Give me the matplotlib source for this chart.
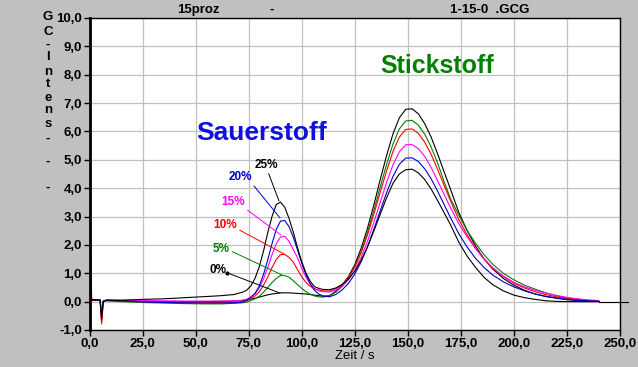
import matplotlib
matplotlib.use('Agg')
import matplotlib.pyplot as plt
from matplotlib.ticker import FuncFormatter, MultipleLocator

plt.rcParams['font.family'] = ['Liberation Sans', 'DejaVu Sans']
plt.rcParams['font.weight'] = 'bold'

zeit = [0, 1, 5, 5.7, 6.5, 8, 15, 25, 35, 45, 55, 62, 68, 72,
        74, 76, 78, 80, 82, 84, 86, 88, 90, 92, 94, 96, 98, 100, 102, 104, 106, 108, 110,
        113, 116, 119, 122, 125, 128, 131, 134, 137, 140, 143, 146, 149, 152, 155, 158,
        161, 164, 167, 170, 174, 178, 182, 186, 190,
        195, 200, 205, 210, 215, 220, 225, 230, 235, 240]

o2_0 = [0.05, 0.05, 0.05, -0.7, 0.0, 0.05, 0.03, 0.01, 0.0, 0.0, 0.0, 0.01, 0.02, 0.04,
        0.06, 0.09, 0.12, 0.16, 0.2, 0.24, 0.27, 0.29, 0.31, 0.31, 0.31, 0.3, 0.29, 0.28, 0.27, 0.25, 0.23, 0.21, 0.19,
        0.21, 0.36, 0.58, 0.88, 1.3, 1.88, 2.59, 3.41, 4.3, 5.15, 5.91, 6.48, 6.78, 6.8, 6.62, 6.27,
        5.8, 5.22, 4.6, 3.99, 3.15, 2.5, 1.95, 1.5, 1.15,
        0.82, 0.58, 0.4, 0.27, 0.18, 0.12, 0.07, 0.04, 0.02, 0.01]

o2_5 = [0.05, 0.05, 0.05, -0.45, 0.0, 0.03, 0.0, -0.03, -0.05, -0.07, -0.08, -0.08, -0.06, -0.04,
        -0.02, 0.04, 0.1, 0.19, 0.33, 0.5, 0.67, 0.82, 0.92, 0.92, 0.86, 0.74, 0.6, 0.47, 0.35, 0.26, 0.2, 0.17, 0.16,
        0.2, 0.33, 0.53, 0.82, 1.23, 1.77, 2.44, 3.21, 4.04, 4.84, 5.55, 6.09, 6.37, 6.39, 6.22, 5.9,
        5.45, 4.9, 4.25, 3.65, 3.05, 2.5, 2.05, 1.65, 1.32,
        1.0, 0.77, 0.58, 0.44, 0.31, 0.21, 0.13, 0.08, 0.04, 0.02]

o2_10 = [0.05, 0.05, 0.05, -0.79, 0.0, 0.04, 0.02, 0.0, -0.01, -0.02, -0.03, -0.03, -0.02, 0.0,
         0.03, 0.1, 0.2, 0.35, 0.58, 0.87, 1.2, 1.48, 1.66, 1.67, 1.56, 1.4, 1.13, 0.88, 0.68, 0.54, 0.46, 0.41, 0.38,
         0.37, 0.45, 0.6, 0.85, 1.22, 1.72, 2.35, 3.08, 3.85, 4.61, 5.29, 5.8, 6.07, 6.09, 5.93, 5.62,
         5.19, 4.67, 4.12, 3.57, 2.9, 2.35, 1.88, 1.5, 1.18,
         0.88, 0.65, 0.48, 0.35, 0.25, 0.17, 0.11, 0.07, 0.04, 0.02]

o2_15 = [0.05, 0.05, 0.05, -0.5, 0.02, 0.06, 0.05, 0.04, 0.03, 0.02, 0.02, 0.02, 0.03, 0.05,
         0.08, 0.17, 0.28, 0.49, 0.8, 1.2, 1.65, 2.04, 2.28, 2.3, 2.13, 1.84, 1.55, 1.18, 0.86, 0.62, 0.46, 0.38, 0.35,
         0.34, 0.4, 0.54, 0.77, 1.1, 1.56, 2.13, 2.79, 3.5, 4.2, 4.82, 5.28, 5.53, 5.54, 5.39, 5.12,
         4.73, 4.27, 3.8, 3.33, 2.75, 2.28, 1.86, 1.5, 1.2,
         0.9, 0.68, 0.52, 0.4, 0.3, 0.22, 0.15, 0.1, 0.06, 0.04]

o2_20 = [1.5, 0.08, 0.06, -0.45, 0.02, 0.05, 0.03, -0.01, -0.03, -0.04, -0.05, -0.05, -0.04, -0.02,
         0.04, 0.15, 0.29, 0.55, 0.96, 1.47, 2.04, 2.54, 2.84, 2.86, 2.65, 2.28, 1.83, 1.36, 0.95, 0.63, 0.4, 0.27, 0.2,
         0.17, 0.25, 0.41, 0.64, 0.97, 1.4, 1.93, 2.55, 3.2, 3.84, 4.41, 4.84, 5.06, 5.07, 4.94, 4.68,
         4.33, 3.9, 3.44, 2.98, 2.4, 1.92, 1.52, 1.2, 0.94,
         0.7, 0.52, 0.38, 0.27, 0.19, 0.13, 0.08, 0.05, 0.03, 0.01]

o2_25 = [5.3, 0.05, 0.05, -0.6, 0.02, 0.05, 0.05, 0.08, 0.1, 0.14, 0.18, 0.21, 0.25, 0.33,
         0.4, 0.55, 0.82, 1.23, 1.78, 2.43, 3.0, 3.42, 3.51, 3.33, 2.94, 2.46, 1.91, 1.41, 1.01, 0.72, 0.53, 0.47, 0.43,
         0.42, 0.48, 0.6, 0.79, 1.07, 1.46, 1.93, 2.49, 3.08, 3.66, 4.17, 4.5, 4.65, 4.67, 4.54, 4.3,
         3.97, 3.57, 3.15, 2.73, 2.1, 1.6, 1.2, 0.85, 0.6,
         0.38, 0.23, 0.14, 0.08, 0.03, 0.01, 0.0, 0.0, 0.0, 0.0]

# Nachlauf der 25%-Kurve ueber den Rand hinaus
nachlauf_zeit = [240, 254]
nachlauf_wert = [0.0, 0.0]

anteile = ['0%', '5%', '10%', '15%', '20%', '25%']
reihen = [o2_0, o2_5, o2_10, o2_15, o2_20, o2_25]
farben = ['black', '#008000', '#ff0000', '#ff00ff', '#0000c8', 'black']

# Beschriftung: Textposition und Ende der Hinweislinie (Datenkoordinaten)
marken_text = [(60.6, 1.11), (62.0, 1.85), (63.9, 2.70), (67.6, 3.51), (70.9, 4.39), (83.4, 4.82)]
marken_ziel = [(89.8, 0.30), (90.7, 0.94), (91.7, 1.68), (90.2, 2.35), (89.8, 2.95), (89.3, 3.55)]
marken_rel = [(1, 0.3), (1, 0.4), (1, 0.2), (1, 0.0), (1, 0.0), (0.55, 0.0)]

W, H = 638, 367
fig = plt.figure(figsize=(W / 100, H / 100), dpi=100, facecolor='#c0c0c0')
ax = fig.add_axes([89.5 / W, 37 / H, 530.5 / W, 312 / H])
ax.set_facecolor('white')

for werte, farbe in zip(reihen, farben):
    ax.plot(zeit, werte, color=farbe, lw=0.8)
ax.plot(nachlauf_zeit, nachlauf_wert, color='black', lw=0.8, clip_on=False)

for name, farbe, txt, ziel, rel in zip(anteile, farben, marken_text, marken_ziel, marken_rel):
    ax.annotate(name, xy=ziel, xytext=txt, color=farbe, fontsize=8.5,
                ha='center', va='center',
                arrowprops=dict(arrowstyle='-', color=farbe, lw=0.7, relpos=rel,
                                shrinkA=0, shrinkB=0))
ax.plot([marken_text[0][0] + 4.3], [marken_text[0][1] - 0.1], 'o', color='black', ms=2)

ax.text(81.3, 5.95, 'Sauerstoff', color='#1010e0', fontsize=19, ha='center', va='center')
ax.text(163.8, 8.31, 'Stickstoff', color='#008000', fontsize=18, ha='center', va='center')

ax.set_xlim(0, 250)
ax.set_ylim(-1, 10)
ax.xaxis.set_major_locator(MultipleLocator(25))
ax.yaxis.set_major_locator(MultipleLocator(1))
komma = FuncFormatter(lambda v, p: f'{v:.1f}'.replace('.', ','))
ax.xaxis.set_major_formatter(komma)
ax.yaxis.set_major_formatter(komma)
ax.tick_params(direction='out', length=4, width=1, color='black', labelsize=9.5, pad=1.5)
ax.grid(color='#c0c0c0', lw=0.9)
ax.set_axisbelow(True)
for s in ['top', 'right', 'bottom']:
    ax.spines[s].set_linewidth(1)
    ax.spines[s].set_color('black')
ax.spines['left'].set_linewidth(2)
ax.set_xlabel('Zeit / s', fontsize=9.5, labelpad=0)

# Kopfzeile
fig.text(198 / W, 1 - 10 / H, '15proz', fontsize=9.5, ha='center', va='center')
fig.text(272 / W, 1 - 10 / H, '-', fontsize=9.5, ha='center', va='center')
fig.text(490 / W, 1 - 10 / H, '1-15-0  .GCG', fontsize=9.5, ha='center', va='center')

# senkrechte Achsenbeschriftung, Buchstabe fuer Buchstabe
ylabel_zeichen = ['G', 'C', '-', 'I', 'n', 't', 'e', 'n', 's', '-', '-', '-']
ylabel_hoehe = [17, 32, 45, 57, 72, 84, 98, 110, 124, 139, 162, 188]
for ch, y in zip(ylabel_zeichen, ylabel_hoehe):
    fig.text(48 / W, 1 - y / H, ch, fontsize=9.5, ha='center', va='center')

fig.savefig('out.png', dpi=100, facecolor=fig.get_facecolor())
